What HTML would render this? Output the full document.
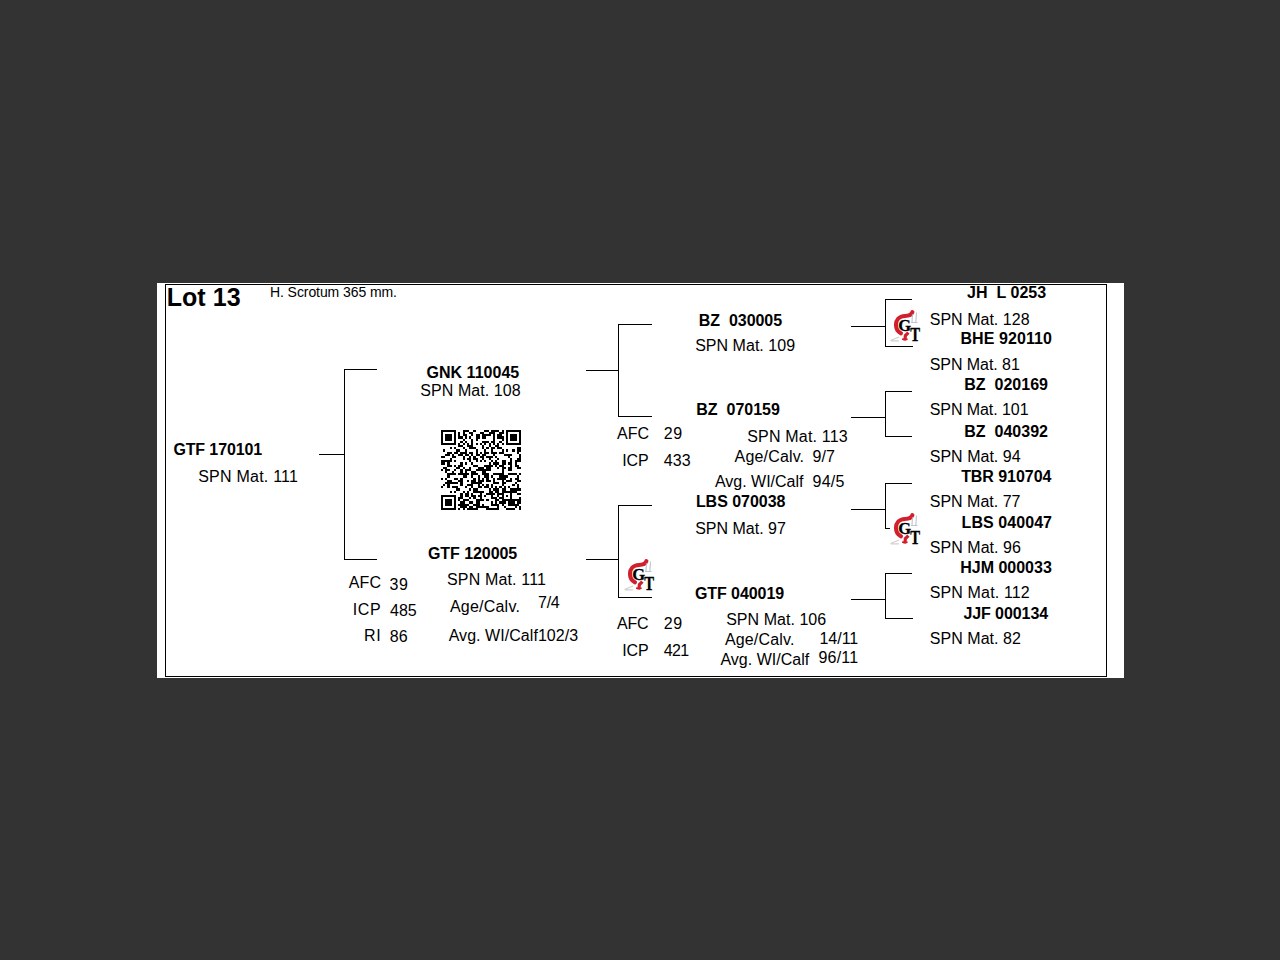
<!DOCTYPE html>
<html><head><meta charset="utf-8"><title>Lot 13</title>
<style>
html,body{margin:0;padding:0;}
body{width:1280px;height:960px;background:#333333;position:relative;overflow:hidden;font-family:"Liberation Sans",sans-serif;color:#000;}
.pg{position:absolute;left:157px;top:283px;width:967px;height:395px;background:#fff;}
.bd{position:absolute;left:165px;top:284px;width:940px;height:391px;border:1px solid #000;}
.t{position:absolute;white-space:pre;line-height:16px;font-size:16px;color:#000;}
.b{font-weight:bold;}
.l{position:absolute;background:#000;}
.logo{position:absolute;width:40px;height:40px;}
.qr{position:absolute;left:441px;top:430px;width:80px;height:80px;}
</style></head><body>
<div class="pg"></div><div class="bd"></div>
<div class="t b" id="t0" style="left:166.70px;top:285.34px;font-size:25.00px;line-height:25.00px;letter-spacing:0.07px">Lot 13</div>
<div class="t" id="t1" style="left:269.97px;top:285.17px;font-size:14.00px;line-height:14.00px;letter-spacing:-0.08px">H. Scrotum 365 mm.</div>
<div class="t b" id="t2" style="left:173.38px;top:442.31px;font-size:16.00px;line-height:16.00px;letter-spacing:-0.11px">GTF 170101</div>
<div class="t" id="t3" style="left:198.20px;top:468.91px;font-size:16.00px;line-height:16.00px;letter-spacing:0.23px">SPN Mat. 111</div>
<div class="t b" id="t4" style="left:426.47px;top:364.71px;font-size:16.00px;line-height:16.00px;letter-spacing:0.03px">GNK 110045</div>
<div class="t" id="t5" style="left:420.34px;top:382.91px;font-size:16.00px;line-height:16.00px;letter-spacing:0.06px">SPN Mat. 108</div>
<div class="t b" id="t6" style="left:427.98px;top:546.11px;font-size:16.00px;line-height:16.00px;letter-spacing:-0.06px">GTF 120005</div>
<div class="t" id="t7" style="left:348.79px;top:574.51px;font-size:16.00px;line-height:16.00px;letter-spacing:0.12px">AFC</div>
<div class="t" id="t8" style="left:389.61px;top:576.50px;font-size:16.00px;line-height:16.00px;letter-spacing:0.51px">39</div>
<div class="t" id="t9" style="left:352.70px;top:602.11px;font-size:16.00px;line-height:16.00px;letter-spacing:0.70px">ICP</div>
<div class="t" id="t10" style="left:389.97px;top:603.31px;font-size:16.00px;line-height:16.00px;letter-spacing:0.03px">485</div>
<div class="t" id="t11" style="left:364.02px;top:628.11px;font-size:16.00px;line-height:16.00px;letter-spacing:0.67px">RI</div>
<div class="t" id="t12" style="left:389.64px;top:628.84px;font-size:16.00px;line-height:16.00px;letter-spacing:0.18px">86</div>
<div class="t" id="t13" style="left:446.97px;top:571.91px;font-size:16.00px;line-height:16.00px;letter-spacing:0.16px">SPN Mat. 111</div>
<div class="t" id="t14" style="left:449.88px;top:599.09px;font-size:16.00px;line-height:16.00px;letter-spacing:0.23px">Age/Calv.</div>
<div class="t" id="t15" style="left:538.06px;top:595.11px;font-size:16.00px;line-height:16.00px;letter-spacing:-0.28px">7/4</div>
<div class="t" id="t16" style="left:448.70px;top:628.30px;font-size:16.00px;line-height:16.00px;letter-spacing:0.05px">Avg. WI/Calf102/3</div>
<div class="t b" id="t17" style="left:698.87px;top:313.31px;font-size:16.00px;line-height:16.00px;letter-spacing:-0.04px">BZ  030005</div>
<div class="t" id="t18" style="left:695.15px;top:338.31px;font-size:16.00px;line-height:16.00px;letter-spacing:0.03px">SPN Mat. 109</div>
<div class="t b" id="t19" style="left:696.28px;top:401.71px;font-size:16.00px;line-height:16.00px">BZ  070159</div>
<div class="t" id="t20" style="left:616.96px;top:425.71px;font-size:16.00px;line-height:16.00px;letter-spacing:0.01px">AFC</div>
<div class="t" id="t21" style="left:663.76px;top:425.70px;font-size:16.00px;line-height:16.00px;letter-spacing:0.70px">29</div>
<div class="t" id="t22" style="left:622.27px;top:453.31px;font-size:16.00px;line-height:16.00px;letter-spacing:-0.09px">ICP</div>
<div class="t" id="t23" style="left:663.83px;top:453.29px;font-size:16.00px;line-height:16.00px;letter-spacing:0.09px">433</div>
<div class="t" id="t24" style="left:747.27px;top:429.31px;font-size:16.00px;line-height:16.00px;letter-spacing:0.18px">SPN Mat. 113</div>
<div class="t" id="t25" style="left:734.61px;top:448.87px;font-size:16.00px;line-height:16.00px;letter-spacing:0.16px">Age/Calv.</div>
<div class="t" id="t26" style="left:812.48px;top:449.31px;font-size:16.00px;line-height:16.00px;letter-spacing:0.05px">9/7</div>
<div class="t" id="t27" style="left:714.88px;top:473.90px;font-size:16.00px;line-height:16.00px">Avg. WI/Calf</div>
<div class="t" id="t28" style="left:812.48px;top:473.91px;font-size:16.00px;line-height:16.00px;letter-spacing:0.27px">94/5</div>
<div class="t b" id="t29" style="left:695.89px;top:494.31px;font-size:16.00px;line-height:16.00px;letter-spacing:-0.03px">LBS 070038</div>
<div class="t" id="t30" style="left:695.20px;top:520.91px;font-size:16.00px;line-height:16.00px">SPN Mat. 97</div>
<div class="t b" id="t31" style="left:694.92px;top:585.91px;font-size:16.00px;line-height:16.00px;letter-spacing:-0.06px">GTF 040019</div>
<div class="t" id="t32" style="left:617.00px;top:615.71px;font-size:16.00px;line-height:16.00px;letter-spacing:-0.18px">AFC</div>
<div class="t" id="t33" style="left:663.76px;top:615.70px;font-size:16.00px;line-height:16.00px;letter-spacing:0.70px">29</div>
<div class="t" id="t34" style="left:622.27px;top:643.31px;font-size:16.00px;line-height:16.00px;letter-spacing:-0.09px">ICP</div>
<div class="t" id="t35" style="left:663.83px;top:643.29px;font-size:16.00px;line-height:16.00px;letter-spacing:-0.65px">421</div>
<div class="t" id="t36" style="left:726.14px;top:611.91px;font-size:16.00px;line-height:16.00px;letter-spacing:0.04px">SPN Mat. 106</div>
<div class="t" id="t37" style="left:724.88px;top:632.28px;font-size:16.00px;line-height:16.00px;letter-spacing:0.17px">Age/Calv.</div>
<div class="t" id="t38" style="left:819.44px;top:631.25px;font-size:16.00px;line-height:16.00px;letter-spacing:-0.01px">14/11</div>
<div class="t" id="t39" style="left:720.44px;top:652.27px;font-size:16.00px;line-height:16.00px;letter-spacing:0.01px">Avg. WI/Calf</div>
<div class="t" id="t40" style="left:818.48px;top:650.25px;font-size:16.00px;line-height:16.00px;letter-spacing:0.18px">96/11</div>
<div class="t b" id="t41" style="left:967.03px;top:285.11px;font-size:16.00px;line-height:16.00px;letter-spacing:0.03px">JH  L 0253</div>
<div class="t" id="t42" style="left:929.73px;top:312.31px;font-size:16.00px;line-height:16.00px;letter-spacing:0.02px">SPN Mat. 128</div>
<div class="t b" id="t43" style="left:960.42px;top:330.71px;font-size:16.00px;line-height:16.00px;letter-spacing:0.09px">BHE 920110</div>
<div class="t" id="t44" style="left:929.73px;top:356.91px;font-size:16.00px;line-height:16.00px;letter-spacing:-0.06px">SPN Mat. 81</div>
<div class="t b" id="t45" style="left:964.28px;top:376.91px;font-size:16.00px;line-height:16.00px;letter-spacing:0.01px">BZ  020169</div>
<div class="t" id="t46" style="left:929.73px;top:401.51px;font-size:16.00px;line-height:16.00px;letter-spacing:-0.07px">SPN Mat. 101</div>
<div class="t b" id="t47" style="left:964.28px;top:423.91px;font-size:16.00px;line-height:16.00px;letter-spacing:0.01px">BZ  040392</div>
<div class="t" id="t48" style="left:929.73px;top:448.51px;font-size:16.00px;line-height:16.00px;letter-spacing:0.02px">SPN Mat. 94</div>
<div class="t b" id="t49" style="left:961.13px;top:468.91px;font-size:16.00px;line-height:16.00px;letter-spacing:-0.05px">TBR 910704</div>
<div class="t" id="t50" style="left:929.73px;top:493.51px;font-size:16.00px;line-height:16.00px">SPN Mat. 77</div>
<div class="t b" id="t51" style="left:961.56px;top:514.71px;font-size:16.00px;line-height:16.00px;letter-spacing:0.07px">LBS 040047</div>
<div class="t" id="t52" style="left:929.73px;top:539.51px;font-size:16.00px;line-height:16.00px;letter-spacing:0.05px">SPN Mat. 96</div>
<div class="t b" id="t53" style="left:960.28px;top:559.91px;font-size:16.00px;line-height:16.00px;letter-spacing:-0.01px">HJM 000033</div>
<div class="t" id="t54" style="left:929.73px;top:584.51px;font-size:16.00px;line-height:16.00px;letter-spacing:0.14px">SPN Mat. 112</div>
<div class="t b" id="t55" style="left:963.43px;top:605.71px;font-size:16.00px;line-height:16.00px;letter-spacing:-0.08px">JJF 000134</div>
<div class="t" id="t56" style="left:929.73px;top:630.51px;font-size:16.00px;line-height:16.00px;letter-spacing:0.05px">SPN Mat. 82</div>
<div class="l" style="left:319px;top:454px;width:25px;height:1px"></div>
<div class="l" style="left:344px;top:369px;width:1px;height:191px"></div>
<div class="l" style="left:344px;top:369px;width:33px;height:1px"></div>
<div class="l" style="left:344px;top:559px;width:33px;height:1px"></div>
<div class="l" style="left:586px;top:370px;width:32px;height:1px"></div>
<div class="l" style="left:618px;top:324px;width:1px;height:93px"></div>
<div class="l" style="left:618px;top:324px;width:34px;height:1px"></div>
<div class="l" style="left:618px;top:416px;width:34px;height:1px"></div>
<div class="l" style="left:586px;top:559px;width:32px;height:1px"></div>
<div class="l" style="left:618px;top:505px;width:1px;height:93px"></div>
<div class="l" style="left:618px;top:505px;width:34px;height:1px"></div>
<div class="l" style="left:618px;top:597px;width:34px;height:1px"></div>
<div class="l" style="left:851px;top:326px;width:34px;height:1px"></div>
<div class="l" style="left:885px;top:299px;width:1px;height:48px"></div>
<div class="l" style="left:885px;top:299px;width:27px;height:1px"></div>
<div class="l" style="left:885px;top:346px;width:28px;height:1px"></div>
<div class="l" style="left:851px;top:417px;width:34px;height:1px"></div>
<div class="l" style="left:885px;top:391px;width:1px;height:46px"></div>
<div class="l" style="left:885px;top:391px;width:27px;height:1px"></div>
<div class="l" style="left:885px;top:436px;width:27px;height:1px"></div>
<div class="l" style="left:851px;top:509px;width:34px;height:1px"></div>
<div class="l" style="left:885px;top:483px;width:1px;height:46px"></div>
<div class="l" style="left:885px;top:483px;width:27px;height:1px"></div>
<div class="l" style="left:885px;top:528px;width:5px;height:1px"></div>
<div class="l" style="left:851px;top:599px;width:34px;height:1px"></div>
<div class="l" style="left:885px;top:573px;width:1px;height:46px"></div>
<div class="l" style="left:885px;top:573px;width:27px;height:1px"></div>
<div class="l" style="left:885px;top:618px;width:28px;height:1px"></div>
<div class="logo" style="left:882px;top:302.8px"><svg width="40" height="40" viewBox="0 0 40 40">
<path d="M30.4 9.2 C29.5 11.8 27.5 13 23 13 C17 13.2 14 17 14 21.8 C14 26 16 29 19 30.3" fill="none" stroke="#d21f2d" stroke-width="4.1" stroke-linecap="round"/>
<path d="M26.4 29.6 L23.4 32.6 L22.8 37.6" fill="none" stroke="#d21f2d" stroke-width="3.2" stroke-linecap="butt"/>
<path d="M20 36.2 H25.6" stroke="#d21f2d" stroke-width="1.6"/>
<path d="M30.5 11 L30 19 M34.5 9.5 L33.8 19.5 M29 19.5 H35.5" stroke="#aeb4c4" stroke-width="1.1" fill="none" opacity="0.8"/>
<path d="M8.5 37.5 L17 34 M9 37.8 H17" stroke="#bdbdbd" stroke-width="1.3" fill="none" opacity="0.7"/>
<text x="16.2" y="27.9" font-family="Liberation Serif" font-weight="bold" font-size="16.5" fill="#000" stroke="#000" stroke-width="0.35">G</text>
<text x="0" y="0" transform="translate(28.2 37.9) scale(0.92 1.12)" font-family="Liberation Serif" font-weight="bold" font-size="16" fill="#000" stroke="#000" stroke-width="0.3">T</text>
</svg></div>
<div class="logo" style="left:616px;top:552px"><svg width="40" height="40" viewBox="0 0 40 40">
<path d="M30.4 9.2 C29.5 11.8 27.5 13 23 13 C17 13.2 14 17 14 21.8 C14 26 16 29 19 30.3" fill="none" stroke="#d21f2d" stroke-width="4.1" stroke-linecap="round"/>
<path d="M26.4 29.6 L23.4 32.6 L22.8 37.6" fill="none" stroke="#d21f2d" stroke-width="3.2" stroke-linecap="butt"/>
<path d="M20 36.2 H25.6" stroke="#d21f2d" stroke-width="1.6"/>
<path d="M30.5 11 L30 19 M34.5 9.5 L33.8 19.5 M29 19.5 H35.5" stroke="#aeb4c4" stroke-width="1.1" fill="none" opacity="0.8"/>
<path d="M8.5 37.5 L17 34 M9 37.8 H17" stroke="#bdbdbd" stroke-width="1.3" fill="none" opacity="0.7"/>
<text x="16.2" y="27.9" font-family="Liberation Serif" font-weight="bold" font-size="16.5" fill="#000" stroke="#000" stroke-width="0.35">G</text>
<text x="0" y="0" transform="translate(28.2 37.9) scale(0.92 1.12)" font-family="Liberation Serif" font-weight="bold" font-size="16" fill="#000" stroke="#000" stroke-width="0.3">T</text>
</svg></div>
<div class="logo" style="left:882px;top:505.6px"><svg width="40" height="40" viewBox="0 0 40 40">
<path d="M30.4 9.2 C29.5 11.8 27.5 13 23 13 C17 13.2 14 17 14 21.8 C14 26 16 29 19 30.3" fill="none" stroke="#d21f2d" stroke-width="4.1" stroke-linecap="round"/>
<path d="M26.4 29.6 L23.4 32.6 L22.8 37.6" fill="none" stroke="#d21f2d" stroke-width="3.2" stroke-linecap="butt"/>
<path d="M20 36.2 H25.6" stroke="#d21f2d" stroke-width="1.6"/>
<path d="M30.5 11 L30 19 M34.5 9.5 L33.8 19.5 M29 19.5 H35.5" stroke="#aeb4c4" stroke-width="1.1" fill="none" opacity="0.8"/>
<path d="M8.5 37.5 L17 34 M9 37.8 H17" stroke="#bdbdbd" stroke-width="1.3" fill="none" opacity="0.7"/>
<text x="16.2" y="27.9" font-family="Liberation Serif" font-weight="bold" font-size="16.5" fill="#000" stroke="#000" stroke-width="0.35">G</text>
<text x="0" y="0" transform="translate(28.2 37.9) scale(0.92 1.12)" font-family="Liberation Serif" font-weight="bold" font-size="16" fill="#000" stroke="#000" stroke-width="0.3">T</text>
</svg></div>
<svg class="qr" viewBox="0 0 37 37" shape-rendering="crispEdges"><path d="M0 0h7v1h-7zM10 0h3v1h-3zM15 0h1v1h-1zM20 0h2v1h-2zM23 0h4v1h-4zM28 0h1v1h-1zM30 0h7v1h-7zM0 1h1v1h-1zM6 1h1v1h-1zM8 1h1v1h-1zM10 1h1v1h-1zM13 1h2v1h-2zM18 1h2v1h-2zM22 1h3v1h-3zM27 1h2v1h-2zM30 1h1v1h-1zM36 1h1v1h-1zM0 2h1v1h-1zM2 2h3v1h-3zM6 2h1v1h-1zM8 2h1v1h-1zM10 2h2v1h-2zM14 2h1v1h-1zM16 2h2v1h-2zM19 2h4v1h-4zM24 2h1v1h-1zM26 2h2v1h-2zM30 2h1v1h-1zM32 2h3v1h-3zM36 2h1v1h-1zM0 3h1v1h-1zM2 3h3v1h-3zM6 3h1v1h-1zM8 3h2v1h-2zM11 3h1v1h-1zM13 3h1v1h-1zM16 3h2v1h-2zM19 3h2v1h-2zM24 3h1v1h-1zM26 3h3v1h-3zM30 3h1v1h-1zM32 3h3v1h-3zM36 3h1v1h-1zM0 4h1v1h-1zM2 4h3v1h-3zM6 4h1v1h-1zM10 4h1v1h-1zM14 4h1v1h-1zM16 4h1v1h-1zM24 4h1v1h-1zM28 4h1v1h-1zM30 4h1v1h-1zM32 4h3v1h-3zM36 4h1v1h-1zM0 5h1v1h-1zM6 5h1v1h-1zM9 5h1v1h-1zM11 5h1v1h-1zM14 5h1v1h-1zM19 5h3v1h-3zM23 5h2v1h-2zM27 5h1v1h-1zM30 5h1v1h-1zM36 5h1v1h-1zM0 6h7v1h-7zM8 6h1v1h-1zM10 6h1v1h-1zM12 6h1v1h-1zM14 6h1v1h-1zM16 6h1v1h-1zM18 6h1v1h-1zM20 6h1v1h-1zM22 6h1v1h-1zM24 6h1v1h-1zM26 6h1v1h-1zM28 6h1v1h-1zM30 6h7v1h-7zM8 7h2v1h-2zM12 7h3v1h-3zM19 7h1v1h-1zM22 7h1v1h-1zM25 7h2v1h-2zM4 8h1v1h-1zM6 8h1v1h-1zM10 8h1v1h-1zM13 8h3v1h-3zM19 8h1v1h-1zM21 8h1v1h-1zM23 8h2v1h-2zM26 8h2v1h-2zM35 8h2v1h-2zM1 9h1v1h-1zM7 9h2v1h-2zM11 9h1v1h-1zM16 9h1v1h-1zM20 9h1v1h-1zM23 9h1v1h-1zM28 9h1v1h-1zM30 9h1v1h-1zM33 9h1v1h-1zM35 9h2v1h-2zM3 10h2v1h-2zM6 10h2v1h-2zM9 10h3v1h-3zM13 10h2v1h-2zM16 10h1v1h-1zM18 10h1v1h-1zM20 10h2v1h-2zM23 10h3v1h-3zM27 10h2v1h-2zM35 10h1v1h-1zM2 11h2v1h-2zM5 11h1v1h-1zM8 11h2v1h-2zM11 11h2v1h-2zM14 11h1v1h-1zM16 11h2v1h-2zM19 11h2v1h-2zM24 11h1v1h-1zM29 11h4v1h-4zM36 11h1v1h-1zM0 12h2v1h-2zM5 12h2v1h-2zM10 12h1v1h-1zM13 12h1v1h-1zM15 12h1v1h-1zM18 12h2v1h-2zM21 12h3v1h-3zM25 12h1v1h-1zM31 12h1v1h-1zM36 12h1v1h-1zM4 13h1v1h-1zM10 13h1v1h-1zM12 13h2v1h-2zM15 13h2v1h-2zM19 13h1v1h-1zM22 13h1v1h-1zM26 13h1v1h-1zM32 13h1v1h-1zM35 13h2v1h-2zM0 14h5v1h-5zM6 14h1v1h-1zM13 14h1v1h-1zM16 14h1v1h-1zM18 14h1v1h-1zM20 14h1v1h-1zM23 14h1v1h-1zM25 14h1v1h-1zM28 14h2v1h-2zM32 14h1v1h-1zM34 14h3v1h-3zM0 15h2v1h-2zM3 15h1v1h-1zM9 15h1v1h-1zM11 15h1v1h-1zM14 15h1v1h-1zM22 15h1v1h-1zM24 15h3v1h-3zM28 15h2v1h-2zM31 15h2v1h-2zM34 15h1v1h-1zM3 16h2v1h-2zM6 16h1v1h-1zM8 16h2v1h-2zM15 16h2v1h-2zM20 16h4v1h-4zM25 16h1v1h-1zM27 16h2v1h-2zM32 16h1v1h-1zM34 16h2v1h-2zM1 17h2v1h-2zM7 17h2v1h-2zM10 17h1v1h-1zM13 17h1v1h-1zM17 17h3v1h-3zM21 17h2v1h-2zM26 17h1v1h-1zM28 17h2v1h-2zM31 17h2v1h-2zM35 17h2v1h-2zM0 18h1v1h-1zM2 18h2v1h-2zM6 18h1v1h-1zM9 18h1v1h-1zM11 18h3v1h-3zM16 18h7v1h-7zM28 18h1v1h-1zM31 18h2v1h-2zM2 19h1v1h-1zM5 19h1v1h-1zM9 19h1v1h-1zM11 19h1v1h-1zM14 19h2v1h-2zM19 19h2v1h-2zM28 19h1v1h-1zM3 20h4v1h-4zM8 20h5v1h-5zM14 20h3v1h-3zM19 20h3v1h-3zM24 20h5v1h-5zM31 20h4v1h-4zM36 20h1v1h-1zM3 21h1v1h-1zM10 21h2v1h-2zM14 21h1v1h-1zM17 21h1v1h-1zM20 21h2v1h-2zM23 21h1v1h-1zM27 21h4v1h-4zM35 21h1v1h-1zM0 22h1v1h-1zM2 22h1v1h-1zM6 22h2v1h-2zM9 22h1v1h-1zM15 22h1v1h-1zM17 22h1v1h-1zM19 22h1v1h-1zM21 22h1v1h-1zM24 22h1v1h-1zM26 22h4v1h-4zM32 22h1v1h-1zM34 22h2v1h-2zM3 23h2v1h-2zM8 23h2v1h-2zM12 23h1v1h-1zM14 23h2v1h-2zM17 23h3v1h-3zM21 23h2v1h-2zM24 23h1v1h-1zM28 23h1v1h-1zM30 23h3v1h-3zM35 23h2v1h-2zM2 24h6v1h-6zM9 24h1v1h-1zM14 24h5v1h-5zM24 24h3v1h-3zM28 24h2v1h-2zM34 24h1v1h-1zM1 25h1v1h-1zM3 25h1v1h-1zM9 25h1v1h-1zM12 25h3v1h-3zM17 25h1v1h-1zM19 25h1v1h-1zM21 25h1v1h-1zM23 25h1v1h-1zM28 25h1v1h-1zM33 25h1v1h-1zM35 25h1v1h-1zM0 26h1v1h-1zM3 26h1v1h-1zM5 26h3v1h-3zM11 26h1v1h-1zM14 26h1v1h-1zM17 26h2v1h-2zM20 26h2v1h-2zM23 26h1v1h-1zM25 26h1v1h-1zM27 26h1v1h-1zM29 26h1v1h-1zM31 26h1v1h-1zM35 26h1v1h-1zM7 27h2v1h-2zM13 27h1v1h-1zM15 27h2v1h-2zM22 27h1v1h-1zM24 27h3v1h-3zM28 27h2v1h-2zM32 27h5v1h-5zM4 28h1v1h-1zM6 28h1v1h-1zM10 28h1v1h-1zM12 28h1v1h-1zM15 28h5v1h-5zM22 28h2v1h-2zM25 28h2v1h-2zM28 28h7v1h-7zM9 29h1v1h-1zM11 29h2v1h-2zM14 29h1v1h-1zM18 29h1v1h-1zM21 29h4v1h-4zM26 29h3v1h-3zM32 29h1v1h-1zM35 29h2v1h-2zM0 30h7v1h-7zM9 30h1v1h-1zM11 30h2v1h-2zM14 30h2v1h-2zM17 30h2v1h-2zM20 30h1v1h-1zM23 30h1v1h-1zM26 30h1v1h-1zM28 30h1v1h-1zM30 30h1v1h-1zM32 30h1v1h-1zM0 31h1v1h-1zM6 31h1v1h-1zM8 31h2v1h-2zM13 31h1v1h-1zM15 31h1v1h-1zM18 31h1v1h-1zM23 31h3v1h-3zM27 31h2v1h-2zM32 31h1v1h-1zM36 31h1v1h-1zM0 32h1v1h-1zM2 32h3v1h-3zM6 32h1v1h-1zM8 32h1v1h-1zM10 32h3v1h-3zM16 32h4v1h-4zM21 32h1v1h-1zM25 32h2v1h-2zM28 32h9v1h-9zM0 33h1v1h-1zM2 33h3v1h-3zM6 33h1v1h-1zM9 33h2v1h-2zM13 33h2v1h-2zM16 33h2v1h-2zM23 33h1v1h-1zM25 33h1v1h-1zM27 33h3v1h-3zM31 33h3v1h-3zM35 33h2v1h-2zM0 34h1v1h-1zM2 34h3v1h-3zM6 34h1v1h-1zM8 34h5v1h-5zM15 34h3v1h-3zM19 34h1v1h-1zM23 34h4v1h-4zM28 34h1v1h-1zM31 34h5v1h-5zM0 35h1v1h-1zM6 35h1v1h-1zM9 35h3v1h-3zM13 35h2v1h-2zM16 35h6v1h-6zM26 35h1v1h-1zM29 35h1v1h-1zM34 35h1v1h-1zM36 35h1v1h-1zM0 36h7v1h-7zM8 36h1v1h-1zM10 36h1v1h-1zM12 36h5v1h-5zM21 36h6v1h-6zM30 36h4v1h-4zM36 36h1v1h-1z" fill="#000"/></svg>
</body></html>
